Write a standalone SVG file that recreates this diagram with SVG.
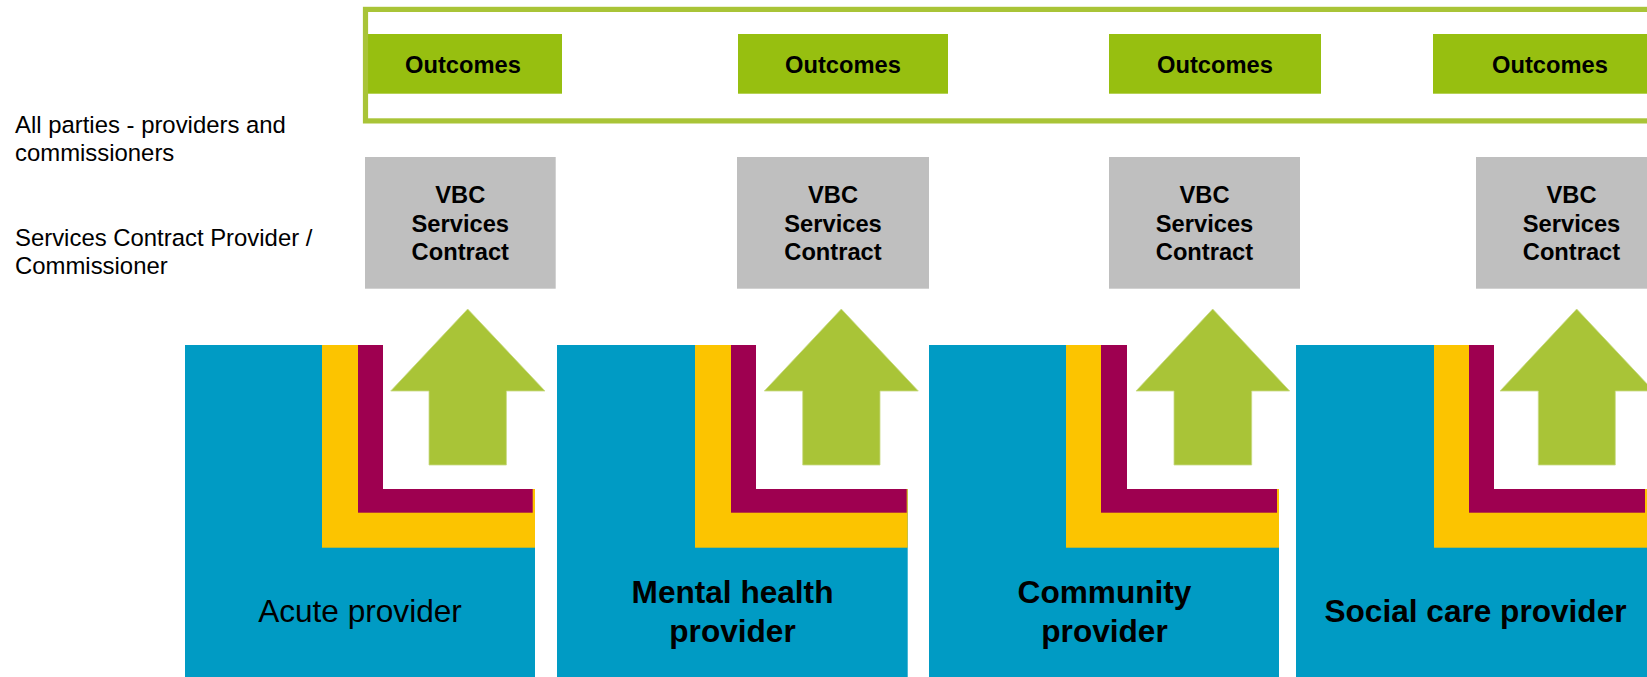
<svg xmlns="http://www.w3.org/2000/svg" width="1647" height="677" viewBox="0 0 1647 677">
  <style>
    .lbl { font-family: "Liberation Sans", Arial, sans-serif; font-size: 23.9px; fill: #000; }
    .b24 { font-family: "Liberation Sans", Arial, sans-serif; font-size: 23.7px; font-weight: bold; fill: #000; text-anchor: middle; }
    .prov { font-family: "Liberation Sans", Arial, sans-serif; font-size: 31.6px; fill: #000; text-anchor: middle; }
    .bold { font-weight: bold; }
    .outc { fill: #97BF10; }
    .vbc { fill: #BFBFBF; }
    .blue { fill: #009BC4; }
    .yel { fill: #FCC400; }
    .pur { fill: #9E0050; }
    .arrow { fill: #A9C437; stroke: #C9DA86; stroke-width: 0.8; }
  </style>
  <rect width="1647" height="677" fill="#fff"/>

  <g id="side-labels">
    <text class="lbl" x="15" y="132.7">All parties - providers and</text>
    <text class="lbl" x="15" y="161">commissioners</text>
    <text class="lbl" x="15" y="246">Services Contract Provider /</text>
    <text class="lbl" x="15" y="274.3">Commissioner</text>
  </g>

  <g id="outcomes-1"><rect class="outc" x="365" y="34" width="197" height="59.7"/><text class="b24" x="463" y="73.3">Outcomes</text></g>
  <g id="outcomes-2"><rect class="outc" x="738" y="34" width="210" height="59.7"/><text class="b24" x="843" y="73.3">Outcomes</text></g>
  <g id="outcomes-3"><rect class="outc" x="1109" y="34" width="212" height="59.7"/><text class="b24" x="1215" y="73.3">Outcomes</text></g>
  <g id="outcomes-4"><rect class="outc" x="1433" y="34" width="240" height="59.7"/><text class="b24" x="1550" y="73.3">Outcomes</text></g>

  <g id="outcomes-frame">
    <rect x="365.5" y="9.4" width="1400" height="111.5" fill="none" stroke="#A9C437" stroke-width="5.2"/>
  </g>

  <g id="vbc-1"><rect class="vbc" x="365" y="157" width="190.7" height="131.7"/>
    <text class="b24" x="460.3" y="203.3">VBC</text><text class="b24" x="460.3" y="231.7">Services</text><text class="b24" x="460.3" y="260">Contract</text></g>
  <g id="vbc-2"><rect class="vbc" x="737" y="157" width="192" height="131.7"/>
    <text class="b24" x="833" y="203.3">VBC</text><text class="b24" x="833" y="231.7">Services</text><text class="b24" x="833" y="260">Contract</text></g>
  <g id="vbc-3"><rect class="vbc" x="1109" y="157" width="191" height="131.7"/>
    <text class="b24" x="1204.5" y="203.3">VBC</text><text class="b24" x="1204.5" y="231.7">Services</text><text class="b24" x="1204.5" y="260">Contract</text></g>
  <g id="vbc-4"><rect class="vbc" x="1476" y="157" width="191" height="131.7"/>
    <text class="b24" x="1571.5" y="203.3">VBC</text><text class="b24" x="1571.5" y="231.7">Services</text><text class="b24" x="1571.5" y="260">Contract</text></g>

  <g id="provider-acute">
    <rect class="blue" x="185" y="345" width="350" height="340"/>
    <rect class="yel" x="322" y="345" width="213" height="202.7"/>
    <rect class="pur" x="358" y="345" width="174.7" height="167.7"/>
    <rect fill="#fff" x="383" y="345" width="155" height="144"/>
    <text class="prov" x="360" y="622.3">Acute provider</text>
  </g>
  <g id="provider-mental-health">
    <rect class="blue" x="557" y="345" width="350.7" height="340"/>
    <rect class="yel" x="695" y="345" width="212.7" height="202.7"/>
    <rect class="pur" x="731" y="345" width="175.7" height="167.7"/>
    <rect fill="#fff" x="756" y="345" width="155" height="144"/>
    <text class="prov bold" x="732.5" y="603.3">Mental health</text>
    <text class="prov bold" x="732.5" y="642.3">provider</text>
  </g>
  <g id="provider-community">
    <rect class="blue" x="929" y="345" width="350" height="340"/>
    <rect class="yel" x="1066" y="345" width="213" height="202.7"/>
    <rect class="pur" x="1101" y="345" width="176" height="167.7"/>
    <rect fill="#fff" x="1127" y="345" width="155" height="144"/>
    <text class="prov bold" x="1104.5" y="603.3">Community</text>
    <text class="prov bold" x="1104.5" y="642.3">provider</text>
  </g>
  <g id="provider-social-care">
    <rect class="blue" x="1296" y="345" width="370" height="340"/>
    <rect class="yel" x="1434" y="345" width="232" height="202.7"/>
    <rect class="pur" x="1469" y="345" width="176" height="167.7"/>
    <rect fill="#fff" x="1494" y="345" width="172" height="144"/>
    <text class="prov bold" x="1475.5" y="622.3">Social care provider</text>
  </g>

  <g id="connectors">
    <polygon class="arrow" points="467.7,309 545,391 506.4,391 506.4,465 429,465 429,391 390.7,391"/>
    <polygon class="arrow" points="841.3,309 918.3,391 880,391 880,465 802.7,465 802.7,391 764.3,391"/>
    <polygon class="arrow" points="1212.7,309 1289.7,391 1251.7,391 1251.7,465 1174,465 1174,391 1136,391"/>
    <polygon class="arrow" points="1576.7,309 1653.7,391 1615.3,391 1615.3,465 1538.3,465 1538.3,391 1500,391"/>
  </g>
</svg>
